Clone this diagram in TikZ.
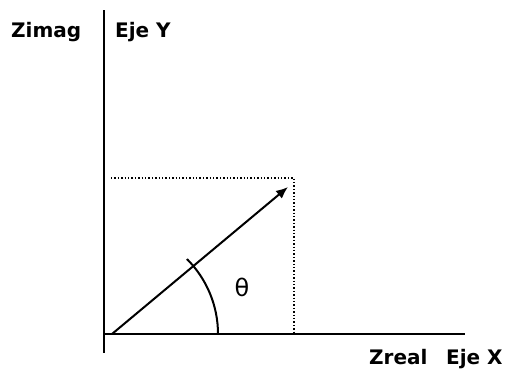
\documentclass[tikz,border=0pt]{standalone}
\usepackage{fontspec}
\setmainfont{DejaVu Sans}
\usetikzlibrary{arrows.meta,positioning}

\begin{document}
\begin{tikzpicture}[x=1pt,y=1pt,
  axis/.style={line width=2pt},
  vec/.style={line width=2pt, -{Latex[length=12pt,width=10pt]}},
  guide/.style={line width=1.4pt, dotted},
  lbl/.style={font=\bfseries\fontsize{20}{22}\selectfont, inner sep=0pt, anchor=base west}]
\useasboundingbox (0,0) rectangle (511,371);
% axes
\coordinate (ytop) at (104,361);
\coordinate (ybot) at (104,18);
\coordinate (xorg) at (104,37);
\coordinate (xend) at (465,37);
\draw[axis] (ybot) -- (ytop);
\draw[axis] (xorg) -- (xend);
% vector and its projections
\coordinate (tail) at (112,37);
\coordinate (tip) at (288,184);
\coordinate (pl) at (111,193);
\coordinate (pc) at (294,193);
\coordinate (pd) at (294,37);
\draw[guide] (pl) -- (pc) -- (pd);
\draw[vec] (tail) -- (tip);
\draw[axis] (tail) ++(106,0) arc[start angle=0, end angle=45, radius=106];
\node[font=\fontsize{24}{26}\selectfont] (theta) at (242,84) {θ};
% labels
\node[lbl] (zimag) at (11,333) {Zimag};
\node[lbl] (ejey) at (115,333) {Eje Y};
\node[lbl] (zreal) at (369,6) {Zreal};
\node[lbl] (ejex) at (446,6) {Eje X};
\end{tikzpicture}
\end{document}
